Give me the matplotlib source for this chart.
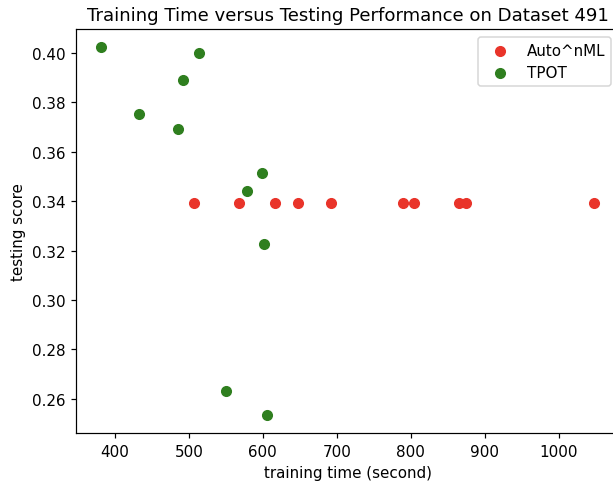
import matplotlib
matplotlib.use("Agg")
import matplotlib.pyplot as plt

# Auto^nML runs
auto_time = [506.8, 568.0, 617.0, 648.0, 692.0, 788.8, 804.5, 864.5, 874.8, 1047.7]
auto_score = [0.3392] * 10

# TPOT runs
tpot_time = [381.0, 432.8, 486.0, 492.3, 513.9, 578.4, 598.6, 602.0, 550.0, 606.3]
tpot_score = [0.4023, 0.3752, 0.3692, 0.3889, 0.4000, 0.3443, 0.3514, 0.3227, 0.2632, 0.2535]

DPI = 109
fig = plt.figure(figsize=(613 / DPI, 482 / DPI), dpi=DPI)
ax = fig.add_axes([76 / 613, 1 - 434.3 / 482, (619 - 76) / 613, (434.3 - 30) / 482])

ax.scatter(auto_time, auto_score, c="#e9342a", s=40, label="Auto^nML")
ax.scatter(tpot_time, tpot_score, c="#2f7f1f", s=40, label="TPOT")

ax.set_title("Training Time versus Testing Performance on Dataset 491")
ax.set_xlabel("training time (second)")
ax.set_ylabel("testing score")
ax.legend(loc="upper right")

fig.savefig("out.png", dpi=DPI)
